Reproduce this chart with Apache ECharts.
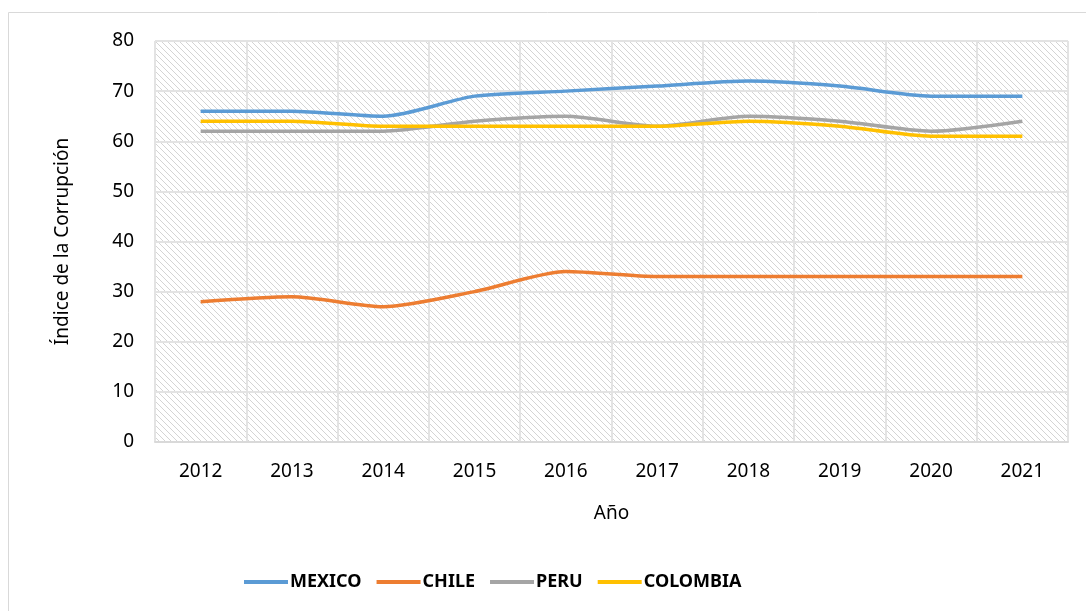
<!DOCTYPE html>
<html>
<head>
<meta charset="utf-8">
<title>echarts</title>
<script src="https://cdn.jsdelivr.net/npm/echarts@6/dist/echarts.min.js"></script>
<style>
  html, body { margin: 0; padding: 0; width: 100%; height: 100%; background: #fff; overflow: hidden; }
  #main { width: 1086px; height: 611px; }
</style>
</head>
<body>
<div id="main"></div>
<script>
var years = ['2012', '2013', '2014', '2015', '2016', '2017', '2018', '2019', '2020', '2021'];
var mexico = [66, 66, 65, 69, 70, 71, 72, 71, 69, 69];
var chile = [28, 29, 27, 30, 34, 33, 33, 33, 33, 33];
var peru = [62, 62, 62, 64, 65, 63, 65, 64, 62, 64];
var colombia = [64, 64, 63, 63, 63, 63, 64, 63, 61, 61];

// diagonal hatch like the excel plot area fill
var tile = document.createElement('canvas');
tile.width = 6; tile.height = 6;
var ctx = tile.getContext('2d');
ctx.fillStyle = '#fff';
ctx.fillRect(0, 0, 6, 6);
ctx.fillStyle = '#d4d4d4';
for (var i = 0; i < 6; i++) {
  ctx.fillRect(i, i, 1, 1);
}

var font = 'Noto Sans';
function line(name, data, color) {
  return {
    name: name, type: 'line', data: data, smooth: 0.25,
    symbol: 'none', lineStyle: { color: color, width: 3.5 }, itemStyle: { color: color }
  };
}

var myChart = echarts.init(document.getElementById('main'));
myChart.setOption({
  animation: false,
  textStyle: { fontFamily: font },
  graphic: [{
    type: 'rect', silent: true, z: -10,
    shape: { x: 8.5, y: 12.5, width: 1200, height: 800 },
    style: { fill: 'none', stroke: '#d9d9d9', lineWidth: 1 }
  }],
  grid: {
    left: 155, right: 18, top: 41, bottom: 169,
    show: true,
    backgroundColor: { image: tile, repeat: 'repeat' },
    borderColor: '#d9d9d9', borderWidth: 1
  },
  legend: {
    left: 239, top: 568,
    itemWidth: 44, itemHeight: 4, itemGap: 15,
    icon: 'rect',
    data: ['MEXICO', 'CHILE', 'PERU', 'COLOMBIA'],
    textStyle: { fontFamily: font, fontSize: 18, fontWeight: 'bold', color: '#000', padding: [0, 0, 0, -3] }
  },
  xAxis: {
    type: 'category', data: years, boundaryGap: true,
    name: 'Año', nameLocation: 'middle', nameGap: 62,
    nameTextStyle: { fontSize: 19, color: '#000' },
    axisLine: { lineStyle: { color: '#d9d9d9', width: 2 } },
    axisTick: { show: false },
    axisLabel: { fontSize: 19, color: '#000', margin: 20 },
    splitLine: { show: true, interval: 0, lineStyle: { color: '#e3e3e3', width: 2 } }
  },
  yAxis: {
    type: 'value', min: 0, max: 80, interval: 10,
    name: 'Índice de la Corrupción', nameLocation: 'middle', nameGap: 83,
    nameTextStyle: { fontSize: 19, color: '#000' },
    axisLine: { show: false }, axisTick: { show: false },
    axisLabel: { fontSize: 19, color: '#000', margin: 21 },
    splitLine: { lineStyle: { color: '#e3e3e3', width: 2 } }
  },
  series: [
    line('MEXICO', mexico, '#5B9BD5'),
    line('CHILE', chile, '#ED7D31'),
    line('PERU', peru, '#A5A5A5'),
    line('COLOMBIA', colombia, '#FFC000')
  ]
});
</script>
</body>
</html>
